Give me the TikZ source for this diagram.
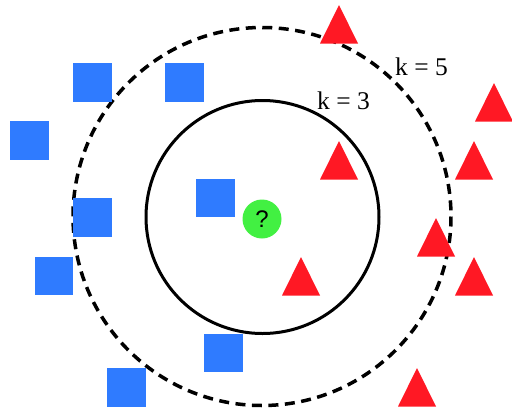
\documentclass[tikz,border=0pt]{standalone}
\usepackage{fontspec}
\setmainfont{Liberation Serif}
\newfontfamily\qfont{Liberation Sans}
\definecolor{sqblue}{RGB}{47,123,255}
\definecolor{trired}{RGB}{255,24,36}
\definecolor{qgreen}{RGB}{66,240,66}
\begin{document}
\begin{tikzpicture}[x=1pt,y=-1pt,
  sq/.style={fill=sqblue,draw=none,minimum size=38.5pt,inner sep=0pt,rectangle},
  tri/.style={fill=trired,draw=none},
  lbl/.style={font=\fontsize{25.5}{25.5}\selectfont,inner sep=0pt,anchor=base west}]
\useasboundingbox (0,0) rectangle (512,410);
% circles
\draw[line width=3.5pt,dash pattern=on 10pt off 6.5pt] (262,216.5) circle[radius=189];
\draw[line width=3pt] (262.5,217) circle[radius=116.5];
% blue squares
\node[sq] (s1) at (92.5,82.5) {};
\node[sq] (s2) at (184.5,82.5) {};
\node[sq] (s3) at (29.5,140.5) {};
\node[sq] (s4) at (92.5,217.5) {};
\node[sq] (s5) at (54,276) {};
\node[sq] (s6) at (215.5,198) {};
\node[sq] (s7) at (223.5,353) {};
\node[sq] (s8) at (126.5,387.5) {};
% red triangles (apex x, apex y)
\foreach \x/\y in {339/5, 494/83, 339/141, 474/141, 436/218, 301/257, 474/257, 417/368}{
  \fill[tri] (\x,\y) -- (\x+19,\y+38.5) -- (\x-19,\y+38.5) -- cycle;
}
% query point
\node[circle,fill=qgreen,minimum size=39pt,inner sep=0pt,font=\qfont\fontsize{24}{24}\selectfont] (q) at (262,219) {?};
% labels
\node[lbl] (k5) at (395,75) {k = 5};
\node[lbl] (k3) at (317,109) {k = 3};
\end{tikzpicture}
\end{document}
